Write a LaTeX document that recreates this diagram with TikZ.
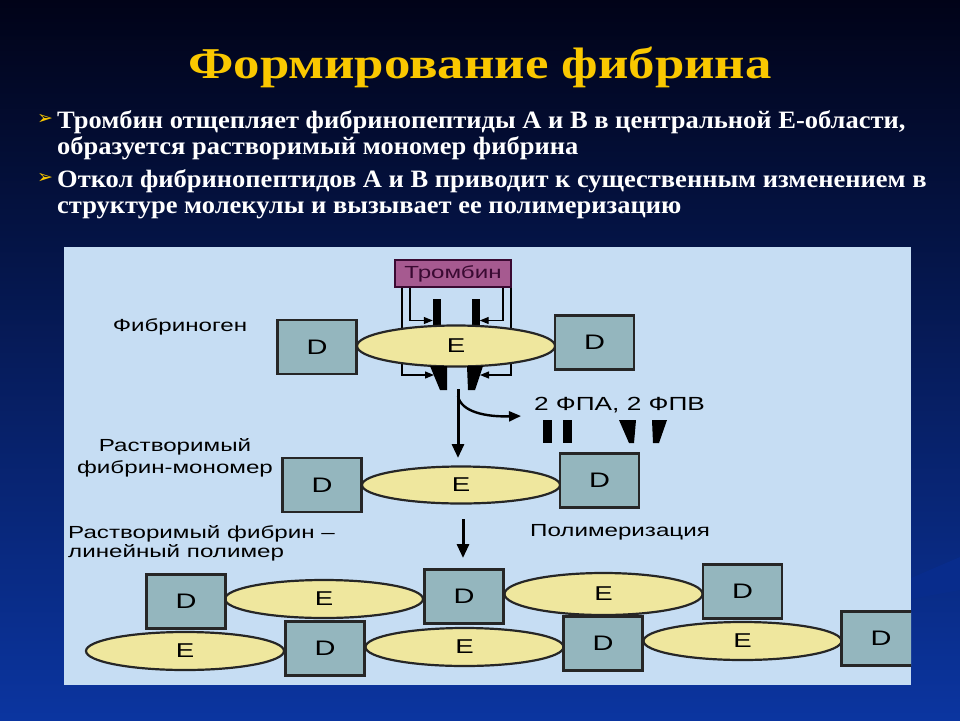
\documentclass[tikz,border=0pt]{standalone}
\usepackage{fontspec}
\setmainfont{Liberation Serif}
\setsansfont{Liberation Sans}
\newfontfamily\labelfont[FakeStretch=1.38]{Liberation Sans}
\newfontfamily\titlefont[FakeStretch=1.2]{Liberation Serif}
\newfontfamily\slidefont[FakeStretch=1.06]{Liberation Serif}
\newfontfamily\symbolfont{DejaVu Sans}
\usetikzlibrary{shapes.geometric,arrows.meta,positioning}

\definecolor{slidetop}{HTML}{010318}
\definecolor{slidemid}{HTML}{07195A}
\definecolor{slidebottom}{HTML}{0B35A0}
\definecolor{swoosh}{HTML}{082C8C}
\definecolor{titleyellow}{HTML}{FAC800}
\definecolor{panelblue}{HTML}{C6DDF3}
\definecolor{dgray}{HTML}{94B6BE}
\definecolor{eyellow}{HTML}{EFE79E}
\definecolor{thrombinfill}{HTML}{A65A90}
\definecolor{thrombinline}{HTML}{3A0A32}

\newcommand\fiblabelstyle{\labelfont\fontsize{17.5}{22}\selectfont}
\newcommand\slidetextstyle{\slidefont\bfseries\fontsize{25}{28}\selectfont}
\newcommand\bulletmark{{\symbolfont\fontsize{19}{19}\selectfont ➢}}

\tikzset{
  dbox/.style={draw=black!85, line width=2.2pt, fill=dgray,
    minimum width=79pt, minimum height=54pt, inner sep=0pt,
    font=\labelfont\fontsize{21}{21}\selectfont},
  ebox/.style={ellipse, draw=black!85, line width=2.2pt, fill=eyellow,
    minimum width=198pt, minimum height=39pt, inner sep=0pt,
    font=\labelfont\fontsize{20}{20}\selectfont},
  fpabar/.style={fill=black, minimum width=8pt, inner sep=0pt},
  tharrow/.style={line width=1.2pt, -{Triangle[width=7pt,length=9pt]}},
  bigarrow/.style={line width=3pt, -{Triangle[width=12pt,length=14pt]}},
  midarrow/.style={line width=2.4pt, -{Triangle[width=10pt,length=12pt]}},
  slideline/.style={anchor=base west, inner sep=0pt, text=white, font=\slidetextstyle},
}

\begin{document}
\begin{tikzpicture}[x=1pt,y=-1pt]
  \useasboundingbox (0,0) rectangle (960,720);
  \shade[top color=slidetop, middle color=slidemid, bottom color=slidebottom]
    (0,0) rectangle (960,720);
  \fill[swoosh] (911,578) -- (960,557) -- (960,590) -- (911,599) -- cycle;

  % title and bullets
  \node[anchor=base, text=titleyellow, font=\titlefont\bfseries\fontsize{44}{48}\selectfont]
    (title) at (480,78) {Формирование фибрина};
  \node[anchor=base, inner sep=0pt, text=titleyellow] (bullet1) at (45,124) {\bulletmark};
  \node[slideline] (line1) at (57,128) {Тромбин отщепляет фибринопептиды А и В в центральной Е-области,};
  \node[slideline] (line2) at (57,154) {образуется растворимый мономер фибрина};
  \node[anchor=base, inner sep=0pt, text=titleyellow] (bullet2) at (45,183) {\bulletmark};
  \node[slideline] (line3) at (57,187) {Откол фибринопептидов А и В приводит к существенным изменением в};
  \node[slideline] (line4) at (57,213) {структуре молекулы и вызывает ее полимеризацию};

  % picture panel
  \fill[panelblue] (64,247) rectangle (911,685);
  \begin{scope}
    \clip (64,247) rectangle (911,685);

    % fibrinogen
    \node[draw=thrombinline, line width=1.4pt, fill=thrombinfill, minimum width=116pt,
      minimum height=27pt, inner sep=0pt, text=thrombinline, font=\fiblabelstyle]
      (thrombin) at (453,273.5) {Тромбин};
    \node[fpabar, minimum height=31pt] (fpa1) at (437,314.5) {};
    \node[fpabar, minimum height=31pt] (fpa2) at (475.5,314.5) {};
    \coordinate (fpb1) at (434,375);
    \coordinate (fpb2) at (480,375);
    \draw[tharrow] ([xshift=-43pt]thrombin.south) |- ([yshift=-6pt]fpa1.west);
    \draw[tharrow] ([xshift=50pt]thrombin.south) |- ([yshift=-6pt]fpa2.east);
    \draw[tharrow] ([xshift=-51pt]thrombin.south) |- (fpb1);
    \draw[tharrow] ([xshift=58pt]thrombin.south) |- (fpb2);

    \node[font=\fiblabelstyle] (fibrinogen) at (180,327) {Фибриноген};
    \node[ebox, minimum height=41pt] (fibE) at (456,346) {E};
    \node[dbox] (fibDl) at (317,347) {D};
    \node[dbox] (fibDr) at (594.5,342.5) {D};
    \fill (430,366) -- (447,366) -- (447,390) -- (440,390) -- cycle;
    \fill (467,366) -- (483,366) -- (475,390) -- (468,390) -- cycle;

    % cleavage
    \coordinate (cleave) at (458,389);
    \coordinate (monotop) at (458,458);
    \coordinate (fpout) at (521,416);
    \draw[bigarrow] (cleave) -- (monotop);
    \draw[midarrow] ([yshift=-7pt]cleave) .. controls (461,412) and (486,417) .. (fpout);
    \node[font=\labelfont\fontsize{19}{19}\selectfont] (fpab) at (619.5,405) {2 ФПА, 2 ФПВ};
    \node[fpabar, minimum width=9pt, minimum height=23pt] (fpa3) at (547.5,431.5) {};
    \node[fpabar, minimum width=9pt, minimum height=23pt] (fpa4) at (567.5,431.5) {};
    \fill (619,420) -- (636,420) -- (634,443) -- (629,443) -- cycle;
    \fill (652,420) -- (667,420) -- (659,443) -- (653,443) -- cycle;

    % monomer
    \node[align=center, font=\fiblabelstyle] (monolabel) at (175,458) {Растворимый\\фибрин-мономер};
    \node[ebox, minimum height=37pt] (monoE) at (461,485) {E};
    \node[dbox] (monoDl) at (322,485) {D};
    \node[dbox] (monoDr) at (599.5,480.5) {D};

    % polymer
    \coordinate (polytop) at (463,519);
    \coordinate (polyend) at (463,558);
    \draw[bigarrow] (polytop) -- (polyend);
    \node[align=left, anchor=north west, inner sep=0pt, font=\labelfont\fontsize{17.5}{19}\selectfont]
      (polylabel) at (68,525) {Растворимый фибрин –\\линейный полимер};
    \node[font=\fiblabelstyle] (polymerization) at (620,532) {Полимеризация};

    \node[ebox, minimum height=38pt] (polyE1) at (324,599) {E};
    \node[ebox, minimum height=42pt] (polyE2) at (603.5,594) {E};
    \node[ebox, minimum height=38pt] (polyE3) at (185,651) {E};
    \node[ebox, minimum height=38pt] (polyE4) at (464.5,647) {E};
    \node[ebox, minimum height=38pt] (polyE5) at (742.5,641) {E};
    \node[dbox] (polyD1) at (186,601.5) {D};
    \node[dbox] (polyD2) at (464,596.5) {D};
    \node[dbox] (polyD3) at (742.5,591.5) {D};
    \node[dbox] (polyD4) at (325,648.5) {D};
    \node[dbox] (polyD5) at (603,643.5) {D};
    \node[dbox] (polyD6) at (881,638.5) {D};
  \end{scope}
\end{tikzpicture}
\end{document}
